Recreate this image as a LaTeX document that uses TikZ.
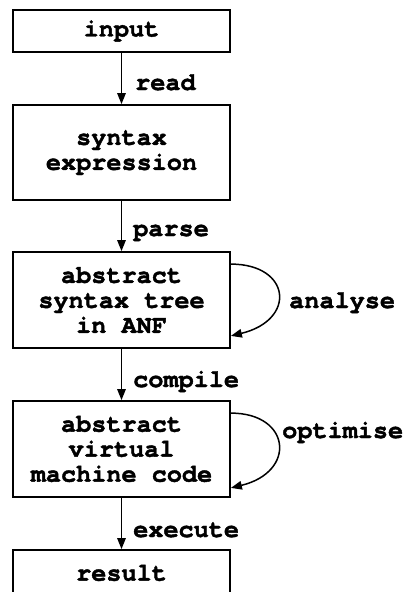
\documentclass[tikz,border=0pt]{standalone}
\usepackage{fontspec}
\setmonofont{TeX Gyre Cursor}[BoldFeatures={FakeBold=1.6}]
\usetikzlibrary{arrows.meta}
\begin{document}
\begin{tikzpicture}[x=1pt,y=-1pt,
  every node/.style={font=\fontsize{25.2}{25}\selectfont\ttfamily\bfseries},
  stagebox/.style={draw, line width=1.8pt, minimum width=217pt, inner sep=0pt,
    align=center, execute at begin node=\setlength{\baselineskip}{25pt}},
  flow/.style={line width=1.5pt, -{Triangle[length=11pt,width=8.5pt]}},
  tag/.style={anchor=base west, inner sep=0pt}]
  \clip (0,0) rectangle (411,592);
  \useasboundingbox (0,0) rectangle (411,592);

  % processing stages
  \node[stagebox, minimum height=42pt] (input)  at (121.5,31)  {input};
  \node[stagebox, minimum height=95pt] (syntax) at (121.5,152.5) {syntax\\expression};
  \node[stagebox, minimum height=96pt] (ast)    at (121.5,300) {abstract\\syntax tree\\in ANF};
  \node[stagebox, minimum height=96pt] (avm)    at (121.5,449) {abstract\\virtual\\machine code};
  \node[stagebox, minimum height=46pt] (result) at (121.5,573) {result};

  % transitions between stages
  \draw[flow] (input) -- (syntax);
  \draw[flow] (syntax) -- (ast);
  \draw[flow] (ast) -- (avm);
  \draw[flow] (avm) -- (result);

  \node[tag] at (135,90)  {read};
  \node[tag] at (133,236) {parse};
  \node[tag] at (133,387) {compile};
  \node[tag] at (133,537) {execute};

  % self loops on the intermediate representations
  \coordinate (a1) at ([yshift=-13pt]ast.north east);
  \coordinate (a2) at ([yshift=13pt]ast.south east);
  \draw[flow] (a1) .. controls +(60,0) and +(66,-16) .. (a2);
  \node[tag] at (289,308) {analyse};

  \coordinate (o1) at ([yshift=-13pt]avm.north east);
  \coordinate (o2) at ([yshift=10pt]avm.south east);
  \draw[flow] (o1) .. controls +(60,0) and +(66,-16) .. (o2);
  \node[tag] at (282,438) {optimise};
\end{tikzpicture}
\end{document}
